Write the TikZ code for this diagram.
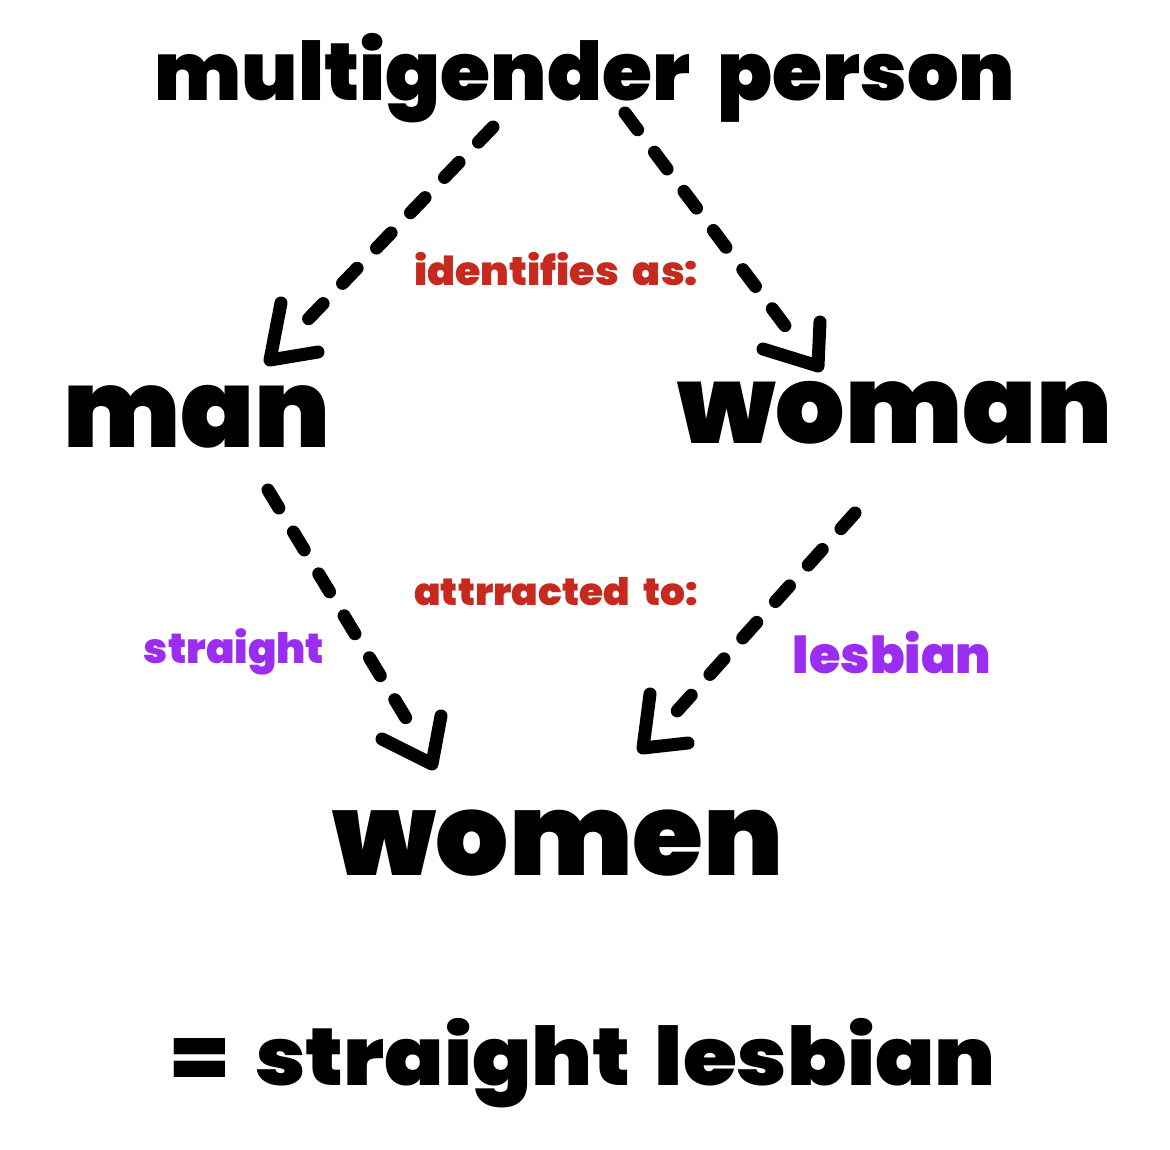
\documentclass[tikz,border=0pt]{standalone}
\usepackage{fontspec}
\setmainfont{Poppins Black}[WordSpace=2]
\definecolor{labelred}{HTML}{C62A1F}
\definecolor{labelpurple}{HTML}{9B2DF0}
\begin{document}
\begin{tikzpicture}[x=1pt,y=-1pt,
  word/.style={anchor=base,inner sep=0pt,text=black},
  dashline/.style={line width=13pt,line cap=round,dash pattern=on 21pt off 28pt},
  headline/.style={line width=13pt,line cap=round,line join=round}]
\useasboundingbox[fill=white] (0,0) rectangle (1170,1149);
% texts
\node[word,font=\fontsize{81}{90}\selectfont] (top) at (585,100) {multigender person};
\node[word,font=\fontsize{40}{44}\selectfont\addfontfeatures{FakeStretch=1.03},text=labelred] (ident) at (556,285) {identifies as:};
\node[word,font=\fontsize{109}{120}\selectfont] (man) at (197,447) {man};
\node[word,font=\fontsize{109}{120}\selectfont] (woman) at (895,443) {woman};
\node[word,font=\fontsize{38}{44}\selectfont\addfontfeatures{FakeStretch=1.03},text=labelred] (attr) at (556,605) {attrracted to:};
\node[word,font=\fontsize{42}{48}\selectfont,text=labelpurple] (str) at (234,663) {straight};
\node[word,font=\fontsize{51}{56}\selectfont,text=labelpurple] (les) at (892,673) {lesbian};
\node[word,font=\fontsize{115}{130}\selectfont] (women) at (558,875) {women};
\node[word,font=\fontsize{81}{90}\selectfont\addfontfeatures{FakeStretch=1.08}] (eq) at (584,1085) {=\hspace{28pt}straight\hspace{24pt}lesbian};
% arrow end points
\coordinate (a1s) at (493,127); \coordinate (a1e) at (290,338);
\coordinate (a1t) at (270,360); \coordinate (a1u) at (281,303); \coordinate (a1r) at (318,352);
\coordinate (a2s) at (625,113); \coordinate (a2e) at (798,343);
\coordinate (a2t) at (818,366); \coordinate (a2u) at (820,322); \coordinate (a2l) at (763,349);
\coordinate (a3s) at (268,490); \coordinate (a3e) at (418,738);
\coordinate (a3t) at (432,764); \coordinate (a3u) at (441,716); \coordinate (a3l) at (382,739);
\coordinate (a4s) at (855,513); \coordinate (a4e) at (660,730);
\coordinate (a4t) at (643,748); \coordinate (a4u) at (650,694); \coordinate (a4r) at (688,743);
% arrows
\draw[dashline] (a1s) -- (a1e);
\draw[headline] (a1u) -- (a1t) -- (a1r);
\draw[dashline] (a2s) -- (a2e);
\draw[headline] (a2u) -- (a2t) -- (a2l);
\draw[dashline] (a3s) -- (a3e);
\draw[headline] (a3u) -- (a3t) -- (a3l);
\draw[dashline] (a4s) -- (a4e);
\draw[headline] (a4u) -- (a4t) -- (a4r);
\end{tikzpicture}
\end{document}
